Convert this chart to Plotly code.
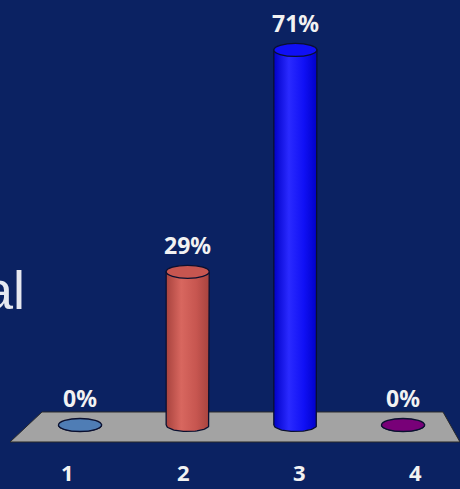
import numpy as np
import plotly.graph_objects as go

# Poll results: one cylinder per answer option
categories = ["1", "2", "3", "4"]
shares = [0, 29, 71, 0]
share_labels = ["0%", "29%", "71%", "0%"]

# Cylinder palette: (edge shade, highlight, top cap)
palette = [
    ("#3d6596", "#5b8cc4", "#4f7db5"),
    ("#a8433e", "#d8675f", "#c75650"),
    ("#0000c8", "#2a2aff", "#1010f5"),
    ("#5c005c", "#8a0a8a", "#780078"),
]

BG = "#0b2262"
xs = np.arange(1, len(categories) + 1)

RX = 0.20   # cylinder radius in x units
RY = 1.23   # ellipse half-height in y units

fig = go.Figure()

# Cylinder bodies (side wall + rounded bottom) with horizontal shading
for x, v, (edge, hi, cap) in zip(xs, shares, palette):
    t = np.linspace(0, -np.pi, 40)
    px = [x - RX, x - RX, x + RX, x + RX] + list(x + RX * np.cos(t))
    py = [0, v, v, 0] + list(0 + RY * np.sin(t))
    fig.add_trace(go.Scatter(
        x=px, y=py, mode="lines", fill="toself",
        fillgradient=dict(type="horizontal",
                          colorscale=[[0, edge], [0.35, hi], [0.7, cap], [1, edge]]),
        line=dict(color="#0a1030", width=1.3),
        hoverinfo="skip", showlegend=False,
    ))

shapes = [
    # grey floor plane drawn in perspective
    dict(type="path", xref="x", yref="y", layer="below",
         path="M 0.647 2.46 L 4.371 2.46 L 4.529 -3.22 L 0.35 -3.22 Z",
         fillcolor="#a3a3a3", line=dict(color="#2a2a2a", width=1)),
]
# Top caps of the cylinders
for x, v, (edge, hi, cap) in zip(xs, shares, palette):
    shapes.append(dict(type="circle", xref="x", yref="y", layer="above",
                       x0=x - RX, x1=x + RX, y0=v - RY, y1=v + RY,
                       fillcolor=cap, line=dict(color="#0a1030", width=1.3)))

annotations = []
for x, v, lab in zip(xs, shares, share_labels):
    annotations.append(dict(x=x, y=v, xref="x", yref="y", text=f"<b>{lab}</b>",
                            showarrow=False, yshift=27,
                            font=dict(family="Noto Sans", size=23, color="#f2f2f2")))
# Category labels beneath the floor, spread slightly by perspective
for x, c in zip(xs, categories):
    annotations.append(dict(x=x, y=-8.9, xref="x", yref="y", text=f"<b>{c}</b>",
                            showarrow=False, xshift=(x - 2.5) * 8.3,
                            font=dict(family="Noto Sans", size=22, color="#f2f2f2")))
# Trailing slide text at the left edge
annotations.append(dict(x=27 / 460, y=1 - 322 / 489, xref="paper", yref="paper",
                        xanchor="right", yanchor="bottom", text="al", showarrow=False,
                        font=dict(family="Liberation Sans", size=54, color="#e6e8f0")))

fig.update_layout(
    width=460, height=489,
    margin=dict(l=0, r=0, t=0, b=0),
    paper_bgcolor=BG, plot_bgcolor=BG,
    xaxis=dict(range=[0.257, 4.529], visible=False, fixedrange=True),
    yaxis=dict(range=[-12.12, 80.46], visible=False, fixedrange=True),
    shapes=shapes, annotations=annotations,
    showlegend=False,
)

fig.write_html("out.html")
